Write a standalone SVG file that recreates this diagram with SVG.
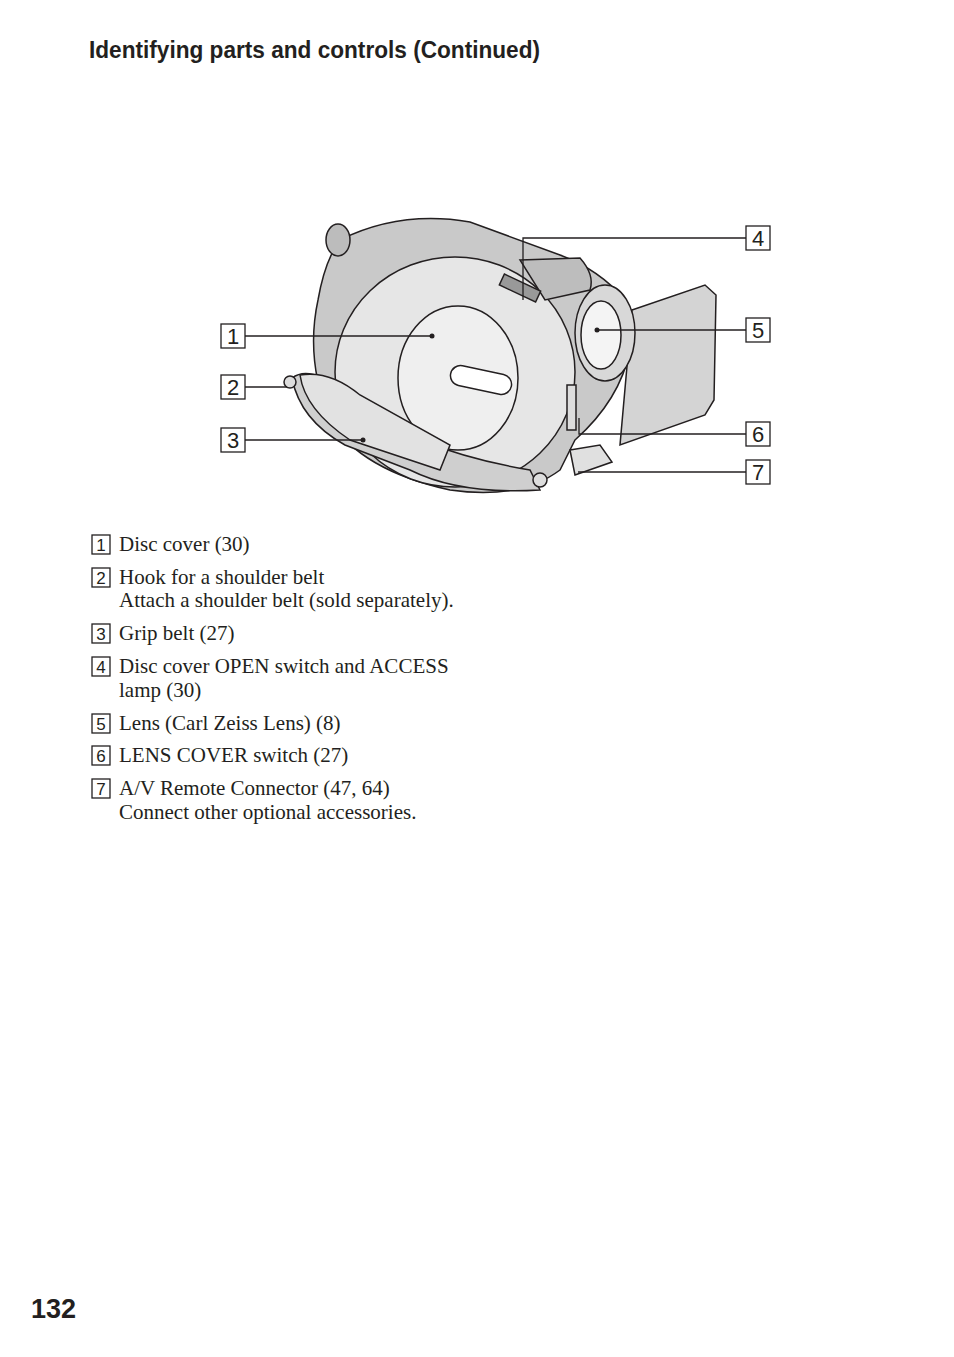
<svg xmlns="http://www.w3.org/2000/svg" width="954" height="1357" viewBox="0 0 954 1357">
<style>
.t{font-family:"Liberation Serif",serif;font-size:21px;fill:#231f20}
.h{font-family:"Liberation Sans",sans-serif;font-weight:bold;fill:#231f20}
.bx{fill:#fff;stroke:#231f20;stroke-width:1.3}
.bn{font-family:"Liberation Sans",sans-serif;font-size:22px;fill:#231f20;text-anchor:middle}
.sn{font-family:"Liberation Sans",sans-serif;font-size:17px;fill:#231f20;text-anchor:middle}
.ld{fill:none;stroke:#231f20;stroke-width:1.3}
.c{stroke:#231f20;stroke-width:1.5}
</style>
<rect width="954" height="1357" fill="#fff"/>
<text class="h" x="89" y="58" font-size="23" textLength="451" lengthAdjust="spacingAndGlyphs">Identifying parts and controls (Continued)</text>
<g id="camera">
<path class="c" fill="#d4d4d4" d="M632 310 L705 285 L716 295 L714 400 L705 415 L620 445 Z"/>
<path class="c" fill="#c9c9c9" d="M340 240 Q400 210 470 222 L560 255 Q600 270 625 300 L630 350 Q620 400 575 440 L560 470 Q520 500 450 490 Q360 470 330 420 Q305 360 318 300 Q325 260 340 240 Z"/>
<ellipse class="c" fill="#e6e6e6" cx="455" cy="372" rx="120" ry="115"/>
<ellipse class="c" fill="#bcbcbc" cx="338" cy="240" rx="12" ry="16"/>
<ellipse class="c" fill="#efefef" cx="458" cy="378" rx="60" ry="72"/>
<rect class="c" fill="#fff" x="450" y="370" width="62" height="20" rx="10" transform="rotate(12 481 380)"/>
<path class="c" fill="#bdbdbd" d="M520 260 L580 258 Q595 275 590 290 L545 300 Z"/>
<rect class="c" fill="#999" x="500" y="282" width="40" height="12" transform="rotate(25 520 288)"/>
<ellipse class="c" fill="#d8d8d8" cx="605" cy="333" rx="30" ry="48"/>
<ellipse class="c" fill="#f4f4f4" cx="601" cy="335" rx="20" ry="34"/>
<rect class="c" fill="#ddd" x="567" y="385" width="9" height="45"/>
<path class="c" fill="#e0e0e0" d="M570 450 L600 445 L612 462 L575 475 Z"/>
<path class="c" fill="#cfcfcf" d="M292 378 Q310 365 340 390 L420 440 Q470 460 530 470 L540 490 Q460 495 410 470 L345 445 Q300 420 292 378 Z"/>
<path class="c" fill="#e2e2e2" d="M300 375 Q330 370 360 395 L450 445 L440 470 L350 440 Q305 410 300 375 Z"/>
<circle class="c" fill="#ddd" cx="290" cy="382" r="6"/>
<circle class="c" fill="#ddd" cx="540" cy="480" r="7"/>
</g>
<g id="connectors">
<path class="ld" d="M245 336 H432"/><circle cx="432" cy="336" r="2.5" fill="#231f20"/>
<path class="ld" d="M245 387 H287"/>
<path class="ld" d="M245 440 H363"/><circle cx="363" cy="440" r="2.5" fill="#231f20"/>
<path class="ld" d="M746 238 H523 V300"/>
<path class="ld" d="M746 330 H597"/><circle cx="597" cy="330" r="2.5" fill="#231f20"/>
<path class="ld" d="M746 434 H579 V418"/>
<path class="ld" d="M746 472 H578"/>
</g>
<g id="n1"><rect class="bx" x="221" y="324" width="24" height="24"/><text class="bn" x="233" y="344">1</text></g>
<g id="n2"><rect class="bx" x="221" y="375" width="24" height="24"/><text class="bn" x="233" y="395">2</text></g>
<g id="n3"><rect class="bx" x="221" y="428" width="24" height="24"/><text class="bn" x="233" y="448">3</text></g>
<g id="n4"><rect class="bx" x="746" y="226" width="24" height="24"/><text class="bn" x="758" y="246">4</text></g>
<g id="n5"><rect class="bx" x="746" y="318" width="24" height="24"/><text class="bn" x="758" y="338">5</text></g>
<g id="n6"><rect class="bx" x="746" y="422" width="24" height="24"/><text class="bn" x="758" y="442">6</text></g>
<g id="n7"><rect class="bx" x="746" y="460" width="24" height="24"/><text class="bn" x="758" y="480">7</text></g>
<g id="legend">
<rect class="bx" x="92" y="535" width="18" height="19"/><text class="sn" x="101" y="551">1</text>
<text class="t" x="119" y="551">Disc cover (30)</text>
<rect class="bx" x="92" y="568" width="18" height="19"/><text class="sn" x="101" y="584">2</text>
<text class="t" x="119" y="584">Hook for a shoulder belt</text>
<text class="t" x="119" y="607">Attach a shoulder belt (sold separately).</text>
<rect class="bx" x="92" y="624" width="18" height="19"/><text class="sn" x="101" y="640">3</text>
<text class="t" x="119" y="640">Grip belt (27)</text>
<rect class="bx" x="92" y="657" width="18" height="19"/><text class="sn" x="101" y="673">4</text>
<text class="t" x="119" y="673">Disc cover OPEN switch and ACCESS</text>
<text class="t" x="119" y="697">lamp (30)</text>
<rect class="bx" x="92" y="714" width="18" height="19"/><text class="sn" x="101" y="730">5</text>
<text class="t" x="119" y="730">Lens (Carl Zeiss Lens) (8)</text>
<rect class="bx" x="92" y="746" width="18" height="19"/><text class="sn" x="101" y="762">6</text>
<text class="t" x="119" y="762">LENS COVER switch (27)</text>
<rect class="bx" x="92" y="779" width="18" height="19"/><text class="sn" x="101" y="795">7</text>
<text class="t" x="119" y="795">A/V Remote Connector (47, 64)</text>
<text class="t" x="119" y="819">Connect other optional accessories.</text>
</g>
<text class="h" x="31" y="1318" font-size="27">132</text>
</svg>
